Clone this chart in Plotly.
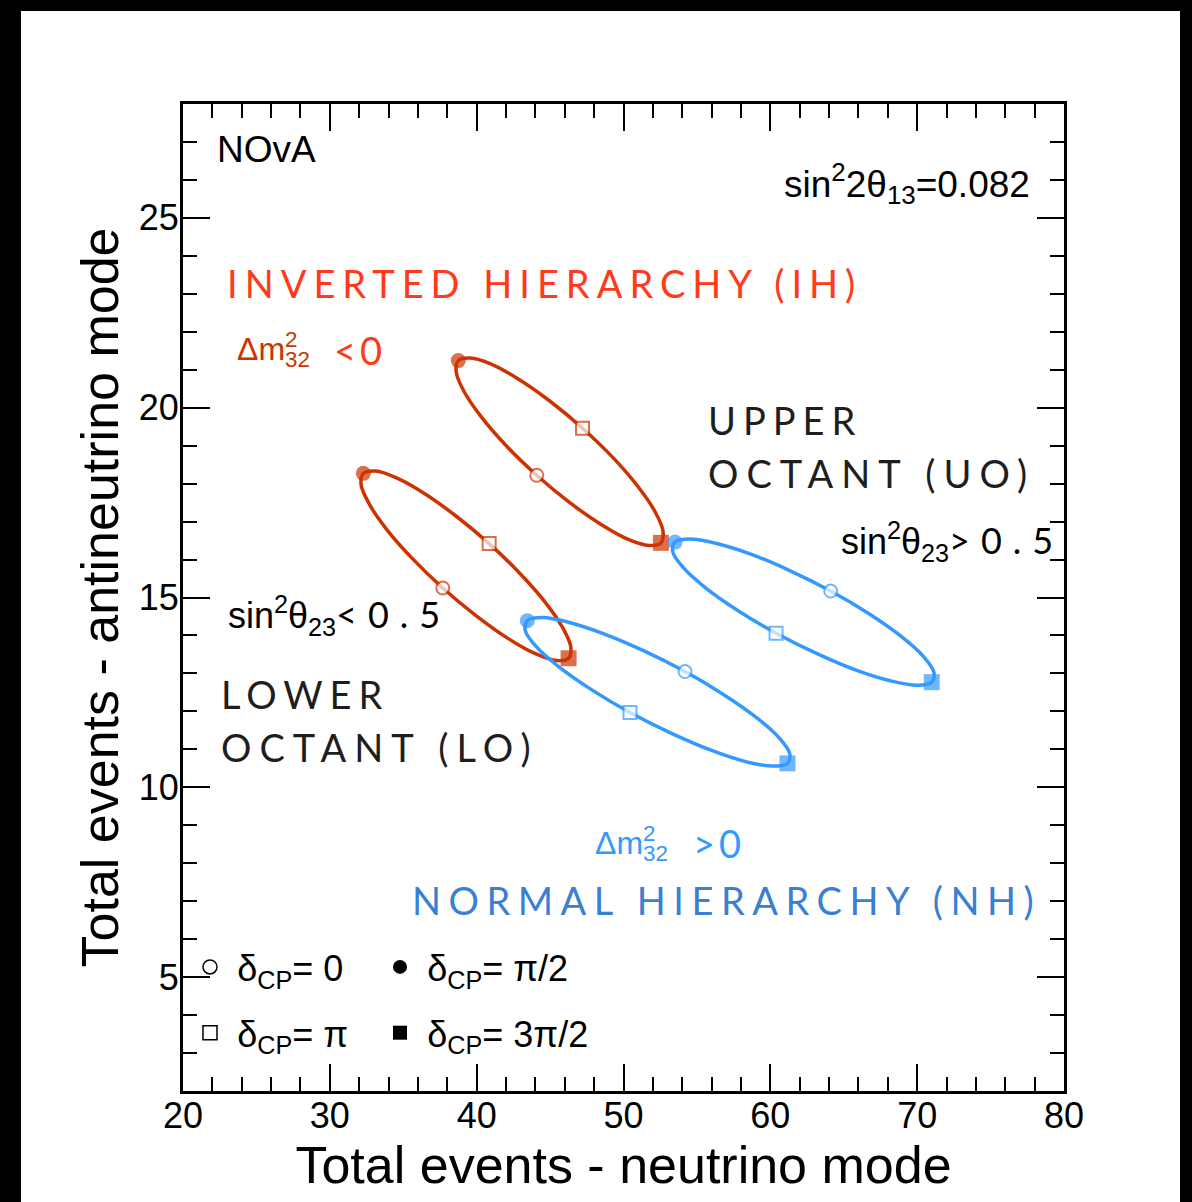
import plotly.graph_objects as go

SANS = "Liberation Sans, Arial, sans-serif"
WIDE = "Lato, sans-serif"

# Total selected events (neutrino mode, antineutrino mode) for each
# hierarchy / octant hypothesis, read round each closed curve as delta_CP
# runs once round in steps of pi/10.
# Entries 0, 5, 10 and 15 are delta_CP = 0, pi/2, pi and 3pi/2.
ih_uo_nu = [44.09, 42.03, 40.33, 39.15, 38.61, 38.75, 39.57, 40.99, 42.86, 45.00,
            47.21, 49.27, 50.97, 52.15, 52.69, 52.55, 51.73, 50.32, 48.45, 46.30, 44.09]
ih_uo_anu = [18.22, 18.99, 19.75, 20.42, 20.93, 21.24, 21.31, 21.15, 20.75, 20.17,
             19.46, 18.69, 17.93, 17.26, 16.75, 16.44, 16.37, 16.53, 16.93, 17.51, 18.22]

ih_lo_nu = [37.69, 35.61, 33.88, 32.69, 32.13, 32.28, 33.11, 34.54, 36.44, 38.61,
            40.85, 42.93, 44.66, 45.85, 46.41, 46.26, 45.43, 44.00, 42.10, 39.93, 37.69]
ih_lo_anu = [15.25, 16.03, 16.79, 17.46, 17.97, 18.27, 18.33, 18.15, 17.74, 17.14,
             16.42, 15.64, 14.88, 14.21, 13.70, 13.40, 13.34, 13.52, 13.93, 14.53, 15.25]

nh_uo_nu = [64.11, 61.32, 58.62, 56.27, 54.51, 53.51, 53.36, 54.09, 55.61, 57.78,
            60.39, 63.18, 65.88, 68.23, 69.99, 70.99, 71.14, 70.42, 68.89, 66.72, 64.11]
nh_uo_anu = [15.17, 15.71, 16.15, 16.43, 16.54, 16.46, 16.20, 15.78, 15.25, 14.66,
             14.06, 13.52, 13.08, 12.80, 12.69, 12.77, 13.03, 13.45, 13.98, 14.57, 15.17]

nh_lo_nu = [54.19, 51.36, 48.62, 46.25, 44.46, 43.45, 43.31, 44.04, 45.58, 47.79,
            50.44, 53.27, 56.00, 58.38, 60.16, 61.17, 61.32, 60.58, 59.04, 56.83, 54.19]
nh_lo_anu = [13.05, 13.60, 14.05, 14.35, 14.47, 14.39, 14.13, 13.71, 13.18, 12.58,
             11.97, 11.42, 10.97, 10.67, 10.56, 10.63, 10.89, 11.31, 11.84, 12.44, 13.05]

# positions of delta_CP = 0, pi/2, pi, 3pi/2 along every curve
cp_index = [0, 5, 10, 15]
cp_labels = ["δ<sub>CP</sub>= 0", "δ<sub>CP</sub>= π/2",
             "δ<sub>CP</sub>= π", "δ<sub>CP</sub>= 3π/2"]

x_ticks = [20, 30, 40, 50, 60, 70, 80]
y_ticks = [5, 10, 15, 20, 25]

RED = "#CC3300"
RED_TEXT = "#FF3A1A"
BLUE = "#3399FF"
BLUE_TEXT = "#3A80D2"
DARK = "#1E1E1E"

cp_symbol = ["circle", "circle", "square", "square"]
cp_filled = [False, True, False, True]
cp_size = [13, 15, 13, 16]

curves = [
    (ih_lo_nu, ih_lo_anu, RED),
    (ih_uo_nu, ih_uo_anu, RED),
    (nh_lo_nu, nh_lo_anu, BLUE),
    (nh_uo_nu, nh_uo_anu, BLUE),
]

fig = go.Figure()

for xs, ys, col in curves:
    fig.add_trace(go.Scatter(
        x=xs, y=ys, mode="lines",
        line=dict(color=col, width=3.5, shape="spline", smoothing=1.0),
        showlegend=False, hoverinfo="skip",
    ))

for xs, ys, col in curves:
    fig.add_trace(go.Scatter(
        x=[xs[i] for i in cp_index], y=[ys[i] for i in cp_index], mode="markers",
        marker=dict(
            symbol=cp_symbol, size=cp_size,
            color=[col if f else "white" for f in cp_filled],
            line=dict(color=col, width=[0 if f else 2 for f in cp_filled]),
        ),
        showlegend=False, hoverinfo="skip",
    ))

# key for the delta_CP markers: two columns, one legend each
for k, label in enumerate(cp_labels):
    fig.add_trace(go.Scatter(
        x=[None], y=[None], mode="markers", name="\u2009" + label,
        legend="legend" if k in (0, 2) else "legend2",
        legendgroup=str(k),
        marker=dict(symbol=cp_symbol[k], size=14,
                    color="black" if cp_filled[k] else "white",
                    line=dict(color="black", width=0 if cp_filled[k] else 1.5)),
    ))

W, H = 1192, 1202
ML, MR, MT, MB = 183, 128, 104, 111
PW, PH = W - ML - MR, H - MT - MB


def px_x(px):
    return (px - ML) / PW


def px_y(py):
    return (H - MB - py) / PH


def note(text, x, y, size, color="black", family=SANS, xanchor="left", yanchor="middle"):
    return dict(text=text, x=x, y=y, xref="x", yref="y", showarrow=False,
                xanchor=xanchor, yanchor=yanchor,
                font=dict(family=family, size=size, color=color))


def wide(text, spacing):
    return '<span style="letter-spacing:%spx">%s</span>' % (spacing, text)


# Delta m^2_32 with the superscript 2 stacked over the subscript 32
DM32 = 'Δm<sup><span style="letter-spacing:-12.5px">2</span></sup><sub>32</sub>'


def sin23(sign):
    return ('sin<sup>2</sup>θ<sub>23</sub>'
            '<span style="font-family:Lato;letter-spacing:11px">%s0.5</span>' % sign)


annotations = [
    note("NOvA", 22.18, 26.81, 37),
    note("sin<sup>2</sup>2θ<sub>13</sub>=0.082", 77.80, 25.90, 37, xanchor="right"),
    note(wide("INVERTED HIERARCHY (IH)", 7), 22.86, 23.29, 38, RED_TEXT, WIDE),
    note(DM32, 23.55, 21.48, 32, RED),
    note(wide("&lt;0", 4), 30.12, 21.53, 38, RED_TEXT, WIDE),
    note(wide("UPPER", 7), 55.60, 19.67, 38, DARK, WIDE),
    note(wide("OCTANT (UO)", 8), 55.60, 18.27, 38, DARK, WIDE),
    note(sin23("&gt;"), 64.70, 16.48, 36),
    note(sin23("&lt;"), 22.90, 14.53, 36),
    note(wide("LOWER", 7), 22.46, 12.47, 38, DARK, WIDE),
    note(wide("OCTANT (LO)", 8), 22.46, 11.07, 38, DARK, WIDE),
    note(DM32, 47.95, 8.46, 32, BLUE),
    note(wide("&gt;0", 4), 54.60, 8.52, 38, BLUE, WIDE),
    note(wide("NORMAL HIERARCHY (NH)", 7.5), 35.46, 7.02, 38, BLUE_TEXT, WIDE),
]

# black border strips round the page
shapes = [
    dict(type="rect", xref="paper", yref="paper", x0=px_x(0), x1=px_x(21),
         y0=px_y(H), y1=px_y(0), fillcolor="black", line=dict(width=0)),
    dict(type="rect", xref="paper", yref="paper", x0=px_x(1180), x1=px_x(W),
         y0=px_y(H), y1=px_y(0), fillcolor="black", line=dict(width=0)),
    dict(type="rect", xref="paper", yref="paper", x0=px_x(0), x1=px_x(W),
         y0=px_y(11), y1=px_y(0), fillcolor="black", line=dict(width=0)),
]

axis_common = dict(
    showline=True, linewidth=3, linecolor="black", mirror="ticks",
    ticks="inside", ticklen=27, tickwidth=2, tickcolor="black",
    showgrid=False, zeroline=False,
    tickfont=dict(family=SANS, size=36, color="black"),
)

legend_common = dict(xanchor="left", yanchor="top", bgcolor="rgba(0,0,0,0)",
                     tracegroupgap=16, font=dict(family=SANS, size=36, color="black"))

fig.update_layout(
    width=W, height=H,
    margin=dict(l=ML, r=MR, t=MT, b=MB),
    paper_bgcolor="white", plot_bgcolor="white",
    xaxis=dict(range=[20, 80], tickvals=x_ticks, ticktext=[str(v) for v in x_ticks],
               minor=dict(dtick=2, ticklen=14, tickwidth=1.5, ticks="inside", tickcolor="black"),
               title=dict(text="Total events - neutrino mode", standoff=7,
                          font=dict(family=SANS, size=52, color="black")),
               ticklabelstandoff=-9, **axis_common),
    yaxis=dict(range=[2, 28], tickvals=y_ticks, ticktext=[str(v) for v in y_ticks],
               minor=dict(dtick=1, ticklen=14, tickwidth=1.5, ticks="inside", tickcolor="black"),
               title=dict(text="Total events - antineutrino mode", standoff=4,
                          font=dict(family=SANS, size=52, color="black")),
               ticklabelstandoff=-6, **axis_common),
    legend=dict(x=px_x(190), y=px_y(937), **legend_common),
    legend2=dict(x=px_x(380), y=px_y(937), **legend_common),
    annotations=annotations,
    shapes=shapes,
    showlegend=True,
)

fig.write_html("out.html", config={"displayModeBar": False})
